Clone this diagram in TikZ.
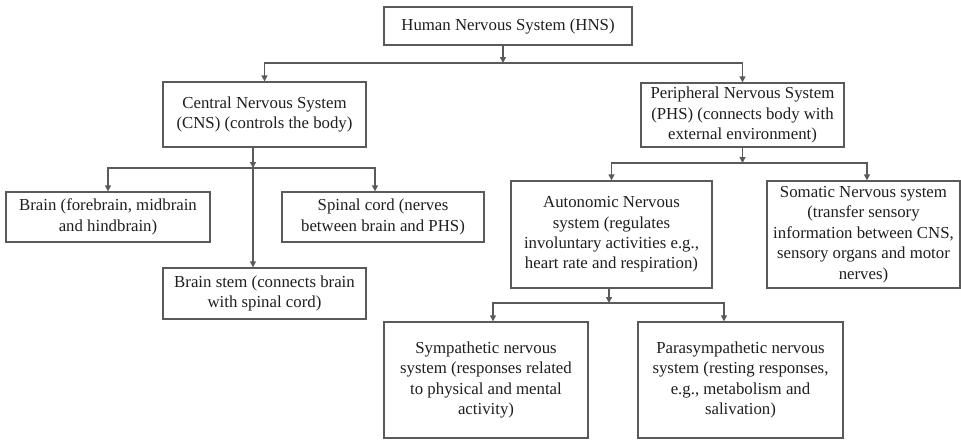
\documentclass[tikz,border=0pt]{standalone}
\usepackage{fontspec}
\setmainfont{Liberation Serif}
\usetikzlibrary{arrows.meta}
\definecolor{linegray}{HTML}{5A5A5A}
\definecolor{inkgray}{HTML}{1E1E1E}
\begin{document}
\begin{tikzpicture}[x=0.75pt,y=-0.75pt,
  box/.style={draw=linegray, line width=1pt, text=inkgray, align=center,
    inner sep=0pt, font=\fontsize{12.6}{15.3}\selectfont},
  wh/.style 2 args={minimum width=#1*0.75pt, minimum height=#2*0.75pt},
  arr/.style={draw=linegray, line width=1pt, -{Triangle[length=4.5pt,width=4.5pt]}}]
\useasboundingbox (0,0) rectangle (961,440);

% boxes
\node[box, wh={248}{38}]  (hns)    at (508,26)    {Human Nervous System (HNS)};
\node[box, wh={203}{65}]  (cns)    at (264.5,114.5) {Central Nervous System\\(CNS) (controls the body)};
\node[box, wh={203}{64}]  (pns)    at (742.5,115) {Peripheral Nervous System\\(PHS) (connects body with\\external environment)};
\node[box, wh={204}{50}]  (brain)  at (108,217)   {Brain (forebrain, midbrain\\and hindbrain)};
\node[box, wh={202}{50}]  (spinal) at (383,217)   {Spinal cord (nerves\\between brain and PHS)};
\node[box, wh={203}{51}]  (bstem)  at (264.5,293.5) {Brain stem (connects brain\\with spinal cord)};
\node[box, wh={201}{107}] (ans)    at (611.5,234.5) {Autonomic Nervous\\system (regulates\\involuntary activities e.g.,\\heart rate and respiration)};
\node[box, wh={193}{107}] (sns)    at (863.5,234.5) {Somatic Nervous system\\(transfer sensory\\information between CNS,\\sensory organs and motor\\nerves)};
\node[box, wh={204}{116}] (symp)   at (486,380)   {Sympathetic nervous\\system (responses related\\to physical and mental\\activity)};
\node[box, wh={205}{116}] (para)   at (740.5,380) {Parasympathetic nervous\\system (resting responses,\\e.g., metabolism and\\salivation)};

% branch points
\coordinate (j1) at (503,63);
\coordinate (j2) at (253,168);
\coordinate (j3) at (742.5,163);
\coordinate (j4) at (609,303);

% HNS branches
\draw[arr] (hns.south -| j1) -- (j1);
\draw[arr] (j1) -| (cns.north);
\draw[arr] (j1) -| (pns.north);

% CNS branches
\draw[arr] (cns.south -| j2) -- (j2);
\draw[arr] (j2) -| (brain.north);
\draw[arr] (j2) -| ([xshift=-6pt]spinal.north);
\draw[arr] (j2) -- (bstem.north -| j2);

% PNS branches
\draw[arr] (pns.south) -- (j3);
\draw[arr] (j3) -| (ans.north);
\draw[arr] (j3) -| ([xshift=2.6pt]sns.north);

% ANS branches
\draw[arr] (ans.south -| j4) -- (j4);
\draw[arr] (j4) -| ([xshift=5.25pt]symp.north);
\draw[arr] (j4) -| ([xshift=-12.4pt]para.north);
\end{tikzpicture}
\end{document}
